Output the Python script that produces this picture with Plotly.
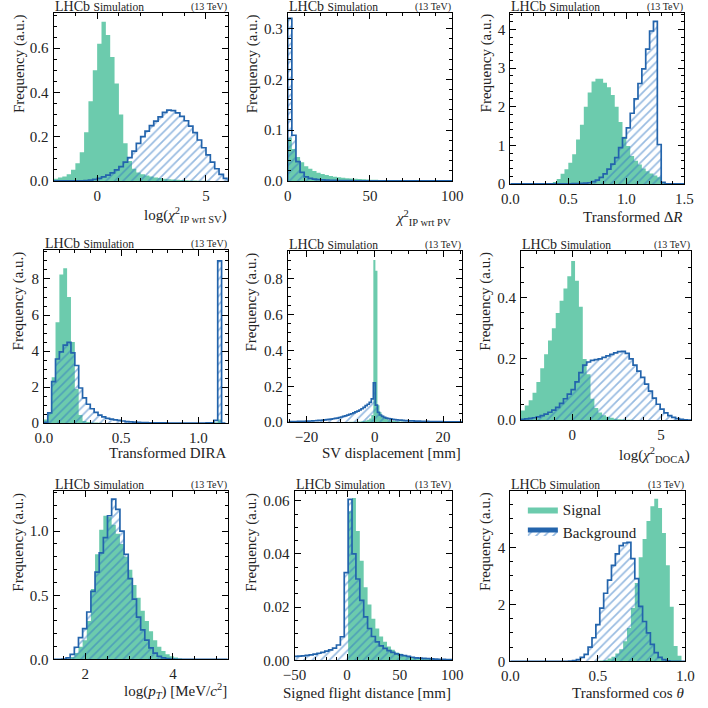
import numpy as np
import plotly.graph_objects as go

# ------------------------------------------------------------------ data
# each panel: histogram start, bin width, signal densities, background densities
P1_START, P1_WIDTH = -2.0, 0.2
P1_SIG = [0.01, 0.015, 0.02, 0.03, 0.05, 0.08, 0.13, 0.22, 0.36, 0.5,
          0.62, 0.72, 0.66, 0.56, 0.44, 0.3, 0.17, 0.09, 0.055, 0.038,
          0.03, 0.025, 0.02, 0.016, 0.013, 0.01, 0.008, 0.006, 0.005, 0.004,
          0.003, 0.002, 0.0015, 0.001, 0.0005, 0.0003, 0, 0, 0, 0]
P1_BKG = [0, 0, 0, 0, 0, 0, 0, 0.002, 0.004, 0.007,
          0.012, 0.018, 0.026, 0.036, 0.05, 0.065, 0.085, 0.105, 0.135, 0.17,
          0.2, 0.225, 0.25, 0.27, 0.29, 0.31, 0.32, 0.318, 0.308, 0.292,
          0.272, 0.248, 0.218, 0.185, 0.15, 0.118, 0.085, 0.055, 0.03, 0.012]

P2_START, P2_WIDTH = 0.0, 2.5
P2_SIG = [0.085, 0.063, 0.047, 0.037, 0.029, 0.024, 0.0195, 0.016, 0.0135, 0.0115,
          0.0098, 0.0084, 0.0072, 0.0062, 0.0054, 0.0047, 0.0041, 0.0036, 0.0032, 0.0028,
          0.0025, 0.0022, 0.002, 0.0018, 0.0016, 0.0014, 0.0013, 0.0012, 0.0011, 0.001,
          0.0009, 0.0008, 0.0008, 0.0007, 0.0007, 0.0006, 0.0006, 0.0005, 0.0005, 0.0005]
P2_BKG = [0.32, 0.09, 0.038, 0.017, 0.008, 0.005, 0.0035, 0.0025, 0.002, 0.0015,
          0.0012, 0.001, 0.0008, 0.0007, 0.0006, 0.0005, 0.0004, 0.0004, 0.0003, 0.0003,
          0.0003, 0.0002, 0.0002, 0.0002, 0.0002, 0.0002, 0.0001, 0.0001, 0.0001, 0.0001,
          0.0001, 0.0001, 0.0001, 0.0001, 0.0001, 0.0001, 0.0001, 0.0001, 0.0001, 0.0001]

P3_START, P3_WIDTH = 0.0, 1.0 / 30
P3_SIG = [0, 0, 0, 0, 0, 0, 0, 0, 0, 0,
          0.02, 0.05, 0.13, 0.26, 0.38, 0.55, 0.77, 1.15, 1.53, 2.0,
          2.37, 2.65, 2.72, 2.72, 2.62, 2.5, 2.3, 2.0, 1.6, 1.22,
          0.98, 0.72, 0.6, 0.5, 0.4, 0.33, 0.27, 0.22, 0.17, 0.02,
          0, 0, 0, 0, 0]
P3_BKG = [0, 0, 0, 0, 0, 0, 0, 0, 0, 0,
          0, 0, 0, 0.002, 0.003, 0.003, 0.005, 0.008, 0.012, 0.02,
          0.03, 0.06, 0.1, 0.17, 0.26, 0.38, 0.51, 0.68, 0.94, 1.19,
          1.45, 1.83, 2.2, 2.6, 2.98, 3.49, 3.96, 4.21, 1.02, 0.04,
          0, 0, 0, 0, 0]

P4_START, P4_WIDTH = 0.0, 0.025
P4_SIG = [0.2, 0.55, 2.55, 5.6, 8.25, 8.6, 7.0, 4.5, 1.9, 0.45,
          0.12, 0.06, 0.04, 0.03, 0.02, 0.015, 0.012, 0.01, 0.008, 0.006,
          0.005, 0.004, 0.003, 0.003, 0.002, 0.002, 0.002, 0.001, 0.001, 0.001,
          0.001, 0.001, 0.001, 0.001, 0.001, 0.001, 0.001, 0.001, 0.001, 0.001,
          0.001, 0.002, 0.003, 0.005, 0.05, 0.2, 0]
P4_BKG = [0.05, 0.57, 2.3, 3.56, 3.96, 4.33, 4.48, 3.9, 3.2, 1.95,
          1.4, 1.05, 0.8, 0.6, 0.45, 0.35, 0.27, 0.22, 0.18, 0.15,
          0.12, 0.09, 0.07, 0.055, 0.045, 0.035, 0.028, 0.022, 0.018, 0.015,
          0.012, 0.011, 0.01, 0.01, 0.009, 0.009, 0.008, 0.008, 0.008, 0.008,
          0.009, 0.01, 0.012, 0.015, 0.15, 9.0, 0]

P5_START, P5_WIDTH = -25.03, 0.6
P5_SIG = [0.0003, 0.0003, 0.0003, 0.0003, 0.0003, 0.0003, 0.0003, 0.0003, 0.0003, 0.0003,
          0.0005, 0.0005, 0.0005, 0.0005, 0.0005, 0.0005, 0.0005, 0.0005, 0.0005, 0.0005,
          0.0008, 0.0008, 0.0008, 0.0008, 0.0008, 0.0008, 0.0012, 0.0014, 0.0016, 0.0019,
          0.0022, 0.0026, 0.003, 0.0036, 0.0044, 0.0055, 0.007, 0.009, 0.013, 0.02,
          0.04, 0.905, 0.845, 0.095, 0.055, 0.037, 0.026, 0.019, 0.014, 0.011,
          0.0085, 0.0068, 0.0055, 0.0045, 0.0038, 0.0032, 0.0027, 0.0023, 0.002, 0.0017,
          0.0015, 0.0013, 0.0012, 0.0011, 0.001, 0.0009, 0.0008, 0.0007, 0.0007, 0.0006,
          0.0006, 0.0005, 0.0005, 0.0005, 0.0004, 0.0004, 0.0004, 0.0003, 0.0003, 0.0003,
          0.0003, 0.0003, 0.0002, 0.0002]
P5_BKG = [0.003, 0.0032, 0.0035, 0.0038, 0.004, 0.0043, 0.0047, 0.005, 0.0055, 0.006,
          0.0066, 0.0072, 0.0079, 0.0087, 0.0095, 0.0105, 0.0115, 0.0127, 0.014, 0.0155,
          0.017, 0.019, 0.021, 0.023, 0.026, 0.029, 0.032, 0.035, 0.039, 0.043,
          0.047, 0.052, 0.057, 0.062, 0.068, 0.075, 0.083, 0.092, 0.1, 0.11,
          0.13, 0.22, 0.095, 0.055, 0.04, 0.032, 0.027, 0.023, 0.02, 0.018,
          0.016, 0.014, 0.013, 0.012, 0.011, 0.01, 0.0092, 0.0085, 0.0078, 0.0072,
          0.0067, 0.0062, 0.0058, 0.0054, 0.005, 0.0047, 0.0044, 0.0041, 0.0038, 0.0036,
          0.0034, 0.0032, 0.003, 0.0028, 0.0026, 0.0025, 0.0024, 0.0023, 0.0022, 0.0021,
          0.002, 0.0019, 0.0018, 0.0017]

P6_START, P6_WIDTH = -2.9, 0.218
P6_SIG = [0.032, 0.048, 0.065, 0.09, 0.125, 0.17, 0.215, 0.26, 0.3, 0.35,
          0.39, 0.43, 0.47, 0.52, 0.455, 0.37, 0.2, 0.15, 0.07, 0.04,
          0.025, 0.016, 0.011, 0.008, 0.005, 0.0035, 0.0025, 0.0018, 0.0012, 0.0008,
          0.0005, 0.0003, 0.0003, 0.0002, 0.0002, 0.0001, 0.0001, 0.0001, 0, 0,
          0, 0, 0, 0]
P6_BKG = [0.003, 0.004, 0.006, 0.008, 0.011, 0.015, 0.02, 0.026, 0.033, 0.042,
          0.055, 0.07, 0.085, 0.1, 0.125, 0.155, 0.18, 0.19, 0.195, 0.198,
          0.2, 0.205, 0.21, 0.215, 0.22, 0.224, 0.225, 0.218, 0.2, 0.18,
          0.16, 0.14, 0.118, 0.095, 0.072, 0.052, 0.036, 0.024, 0.015, 0.009,
          0.005, 0.0025, 0.001, 0.0005]

P7_START, P7_WIDTH = 1.28, 0.0945
P7_SIG = [0, 0, 0.002, 0.005, 0.02, 0.05, 0.1, 0.15, 0.3, 0.55,
          0.82, 1.01, 1.12, 1.11, 1.05, 0.98, 0.9, 0.8, 0.7, 0.58,
          0.48, 0.38, 0.3, 0.22, 0.15, 0.1, 0.065, 0.04, 0.025, 0.015,
          0.008, 0.004, 0.002, 0.001, 0, 0, 0, 0, 0, 0,
          0, 0]
P7_BKG = [0, 0, 0.003, 0.013, 0.04, 0.095, 0.17, 0.24, 0.37, 0.53,
          0.68, 0.83, 0.95, 1.12, 1.25, 1.17, 1.0, 0.82, 0.63, 0.47,
          0.33, 0.23, 0.15, 0.09, 0.05, 0.025, 0.012, 0.006, 0.003, 0.001,
          0, 0, 0, 0, 0, 0, 0, 0, 0, 0,
          0, 0]

P8_START, P8_WIDTH = -50.8, 3.7
P8_SIG = [0, 0, 0, 0, 0, 0, 0, 0, 0, 0,
          0, 0, 0, 0, 0.056, 0.061, 0.0486, 0.0374, 0.0275, 0.021,
          0.0157, 0.012, 0.009, 0.007, 0.0052, 0.004, 0.003, 0.0025, 0.002, 0.0016,
          0.0013, 0.001, 0.0008, 0.0007, 0.0006, 0.0005, 0.0004, 0.0003, 0.0003, 0.0002,
          0.0002]
P8_BKG = [0.0015, 0.0016, 0.0017, 0.0019, 0.0021, 0.0024, 0.0027, 0.003, 0.0035, 0.004,
          0.0046, 0.0058, 0.0089, 0.033, 0.0605, 0.04, 0.0306, 0.0226, 0.0164, 0.012,
          0.009, 0.007, 0.0055, 0.0045, 0.0037, 0.003, 0.0025, 0.0021, 0.0018, 0.0015,
          0.0012, 0.001, 0.0009, 0.0008, 0.0007, 0.0006, 0.0005, 0.0004, 0.0004, 0.0003,
          0.0003]

P9_START, P9_WIDTH = 0.0, 1.0 / 45
P9_SIG = [0, 0, 0, 0, 0, 0, 0, 0, 0, 0,
          0, 0, 0, 0, 0, 0, 0, 0, 0, 0,
          0.005, 0.01, 0.02, 0.035, 0.05, 0.1, 0.16, 0.28, 0.43, 0.71,
          1.17, 1.87, 2.75, 3.65, 4.29, 4.92, 5.44, 5.7, 5.38, 4.5,
          3.37, 1.92, 0.54, 0.2, 0]
P9_BKG = [0, 0, 0, 0, 0, 0, 0, 0, 0, 0,
          0, 0, 0, 0, 0.005, 0.015, 0.03, 0.06, 0.14, 0.25,
          0.5, 0.83, 1.29, 1.87, 2.39, 2.85, 3.37, 3.77, 4.06, 4.15,
          4.17, 3.6, 2.9, 1.93, 1.4, 1.0, 0.6, 0.31, 0.14, 0.06,
          0.02, 0.005, 0, 0, 0]

X_TITLES = ["log(<i>χ</i><sup>2</sup><sub>IP wrt SV</sub>)",
            "<i>χ</i><sup>2</sup><sub>IP wrt PV</sub>",
            "Transformed Δ<i>R</i>",
            "Transformed DIRA",
            "SV displacement [mm]",
            "log(<i>χ</i><sup>2</sup><sub>DOCA</sub>)",
            "log(<i>p</i><sub><i>T</i></sub>) [MeV/<i>c</i><sup>2</sup>]",
            "Signed flight distance [mm]",
            "Transformed cos <i>θ</i>"]
Y_TITLE = "Frequency (a.u.)"
SERIES_NAMES = ["Signal", "Background"]

# ------------------------------------------------------------------ styling / layout
W = H = 708
FONT = "Liberation Serif"
TXT = "rgb(35,35,35)"
TICK_SIZE = 15
LABEL_SIZE = 15
SIG_COLOR = "rgb(108,203,173)"
BKG_LINE = "rgb(35,100,172)"
BKG_HATCH = "rgb(50,120,195)"

PANELS = [
    (P1_START, P1_WIDTH, P1_SIG, P1_BKG),
    (P2_START, P2_WIDTH, P2_SIG, P2_BKG),
    (P3_START, P3_WIDTH, P3_SIG, P3_BKG),
    (P4_START, P4_WIDTH, P4_SIG, P4_BKG),
    (P5_START, P5_WIDTH, P5_SIG, P5_BKG),
    (P6_START, P6_WIDTH, P6_SIG, P6_BKG),
    (P7_START, P7_WIDTH, P7_SIG, P7_BKG),
    (P8_START, P8_WIDTH, P8_SIG, P8_BKG),
    (P9_START, P9_WIDTH, P9_SIG, P9_BKG),
]
# plot-area boxes in pixels: left, right, top, bottom
BOXES = [(43, 223, 13, 183), (285, 455, 13, 183), (515, 695, 13, 186),
         (33, 223, 253, 428), (285, 465, 254, 427), (526, 702, 254, 425),
         (43, 223, 497, 667), (292, 455, 497, 668), (515, 696, 497, 669)]
X_RANGES = [(-2, 6), (0, 100), (0, 1.5), (0, 1.19), (-25.5, 25.5),
            (-2.9, 6.7), (1.28, 5.25), (-50, 100), (0, 1.0)]
Y_RANGES = [(0, 0.76), (0, 0.331), (0, 4.43), (0, 9.6), (0, 0.954),
            (0, 0.552), (0, 1.31), (0, 0.0635), (0, 5.96)]
X_TICKS = [(5, 1, ""), (50, 10, ""), (0.5, 0.1, ".1f"), (0.5, 0.1, ".1f"), (20, 5, ""),
           (5, 1, ""), (2, 0.5, ""), (50, 10, ""), (0.5, 0.1, ".1f")]
Y_TICKS = [(0.2, 0.05, ".1f"), (0.1, 0.02, ".1f"), (1, 0.2, "d"), (2, 0.5, "d"),
           (0.2, 0.05, ".1f"), (0.2, 0.05, ".1f"), (0.5, 0.1, ".1f"), (0.02, 0.005, ".2f"),
           (2, 0.5, "d")]
XTITLE_Y = [217, 220, 219, 458, 458, 460, 699, 701, 701]
YTITLE_X = [8, 248, 490, 7, 248, 490, 7, 248, 490]


def px_x(p):
    return p / W


def px_y(p):
    return 1 - p / H


def step_path(start, width, vals):
    n = len(vals)
    edges = start + width * np.arange(n + 1)
    xs = [edges[0]] + list(edges[:-1]) + [edges[-1], edges[-1]]
    ys = [0] + list(vals) + [vals[-1], 0]
    return xs, ys


fig = go.Figure()
annotations = []
layout_axes = {}

for k, (start, width, sig, bkg) in enumerate(PANELS):
    i = k + 1
    xa = "x" if i == 1 else f"x{i}"
    ya = "y" if i == 1 else f"y{i}"
    xs, ys = step_path(start, width, sig)
    fig.add_trace(go.Scatter(
        x=xs, y=ys, mode="lines", xaxis=xa, yaxis=ya,
        line=dict(width=0, shape="hv", color=SIG_COLOR),
        fill="tozeroy", fillcolor=SIG_COLOR,
        name=SERIES_NAMES[0], showlegend=(i == 9), hoverinfo="skip"))
    xb, yb = step_path(start, width, bkg)
    fig.add_trace(go.Scatter(
        x=xb, y=yb, mode="lines", xaxis=xa, yaxis=ya,
        line=dict(width=1.7, shape="hv", color=BKG_LINE),
        fill="tozeroy", fillcolor="rgba(0,0,0,0)",
        fillpattern=dict(shape="/", fgcolor=BKG_HATCH, bgcolor="rgba(255,255,255,0)",
                         size=6, solidity=0.28, fillmode="overlay"),
        name=SERIES_NAMES[1], showlegend=(i == 9), hoverinfo="skip"))

    l, r, t, b = BOXES[k]
    common = dict(ticks="inside", ticklen=6, tickwidth=1, tickcolor="black",
                  showline=True, linecolor="black", linewidth=1, mirror="allticks",
                  showgrid=False, zeroline=False,
                  tickfont=dict(family=FONT, size=TICK_SIZE, color=TXT))
    xd, xm, xf = X_TICKS[k]
    yd, ym, yf = Y_TICKS[k]
    layout_axes["xaxis" if i == 1 else f"xaxis{i}"] = dict(
        domain=[px_x(l), px_x(r)], range=list(X_RANGES[k]), anchor=ya,
        dtick=xd, tick0=0, tickformat=xf, ticklabelstandoff=1,
        minor=dict(dtick=xm, tick0=0, ticks="inside", ticklen=3, tickcolor="black", showgrid=False),
        **common)
    layout_axes["yaxis" if i == 1 else f"yaxis{i}"] = dict(
        domain=[px_y(b), px_y(t)], range=list(Y_RANGES[k]), anchor=xa,
        dtick=yd, tick0=0, tickformat=yf, ticklabelstandoff=1,
        minor=dict(dtick=ym, tick0=0, ticks="inside", ticklen=3, tickcolor="black", showgrid=False),
        **common)

    # LHCb label and energy
    annotations.append(dict(
        xref="paper", yref="paper", x=px_x(l), y=px_y(t), xanchor="left", yanchor="bottom",
        text="LHCb <span style='font-size:11.5px'>Simulation</span>", showarrow=False,
        font=dict(family=FONT, size=14, color=TXT), borderpad=0, yshift=-2))
    annotations.append(dict(
        xref="paper", yref="paper", x=px_x(r), y=px_y(t), xanchor="right", yanchor="bottom",
        text="(13 TeV)", showarrow=False,
        font=dict(family=FONT, size=10, color=TXT), borderpad=0, yshift=-1))
    # axis titles
    annotations.append(dict(
        xref="paper", yref="paper", x=px_x(r), y=px_y(XTITLE_Y[k]), xanchor="right",
        yanchor="middle", text=X_TITLES[k], showarrow=False,
        font=dict(family=FONT, size=LABEL_SIZE, color=TXT), borderpad=0))
    annotations.append(dict(
        xref="paper", yref="paper", x=px_x(YTITLE_X[k]), y=px_y(t), xanchor="center",
        yanchor="top", text=Y_TITLE, textangle=-90, showarrow=False,
        font=dict(family=FONT, size=LABEL_SIZE, color=TXT), borderpad=0))

fig.update_layout(
    width=W, height=H, autosize=False,
    margin=dict(l=0, r=0, t=0, b=0),
    paper_bgcolor="white", plot_bgcolor="white",
    annotations=annotations,
    legend=dict(x=px_x(528), y=px_y(499), xanchor="left", yanchor="top",
                bgcolor="rgba(0,0,0,0)", borderwidth=0,
                font=dict(family=FONT, size=LABEL_SIZE, color=TXT),
                tracegroupgap=0, itemsizing="constant"),
    showlegend=True,
    **layout_axes,
)

fig.write_html("out.html")
